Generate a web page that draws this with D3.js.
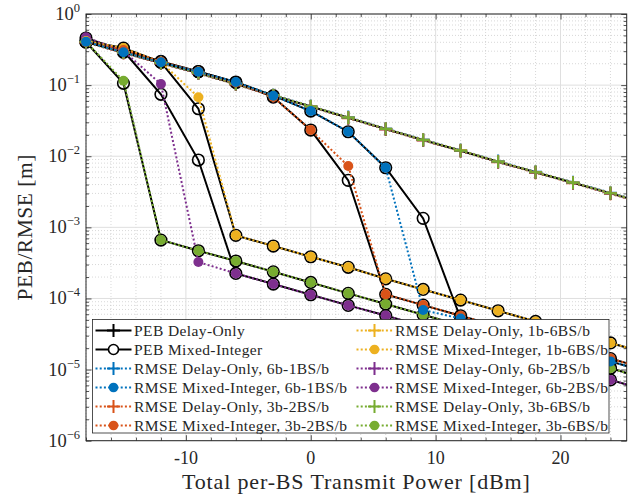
<!DOCTYPE html>
<html><head><meta charset="utf-8">
<script src="https://cdn.jsdelivr.net/npm/d3@7"></script>
<style>
body{margin:0;background:#fff}
</style>
</head><body>
<svg id="c" width="634" height="495"></svg>
<script>
// ---------------- data ----------------
const power = [-18,-15,-12,-9,-6,-3,0,3,6,9,12,15,18,21,24,27];
const xTickValues = [-10,0,10,20];
const yTickExponents = [0,-1,-2,-3,-4,-5,-6];
const configs = ["6b-1BS/b","3b-2BS/b","1b-6BS/b","6b-2BS/b","3b-6BS/b"];
const configColors = ["#0072BD","#D95319","#EDB120","#7E2F8E","#77AC30"];

const pebDelayOnly = [0.404,0.287,0.205,0.148,0.1036,0.0714,0.0500,0.0348,0.0241,0.0169,0.01195,0.00837,0.00594,0.00424,0.00301,0.00213];

const rmseDelayOnly_6b1 = [0.412,0.293,0.209,0.151,0.1057,0.0728,0.0510,0.0355,0.0246,0.0172,0.0122,0.00854,0.00606,0.00432,0.00307,0.00217];
const rmseDelayOnly_3b2 = [0.398,0.283,0.202,0.146,0.1022,0.0704,0.0493,0.0343,0.0238,0.0167,0.0118,0.00826,0.00586,0.00418,0.00297,0.0021];
const rmseDelayOnly_1b6 = [0.408,0.290,0.207,0.1495,0.1046,0.0721,0.0505,0.0351,0.0243,0.0171,0.0121,0.00845,0.0060,0.00428,0.00304,0.00215];
const rmseDelayOnly_6b2 = [0.400,0.285,0.203,0.147,0.1028,0.0709,0.0496,0.0346,0.0239,0.0168,0.01187,0.0083,0.0059,0.00421,0.00299,0.00211];
const rmseDelayOnly_3b6 = [0.404,0.287,0.205,0.148,0.1036,0.0714,0.0500,0.0348,0.0241,0.0169,0.01195,0.00837,0.00594,0.00424,0.00301,0.00213];

const pebMixed_6b1 = [0.4077,0.2893,0.2093,0.1543,0.1105,0.0710,0.0432,0.0221,0.00689,0.001338,5.22e-5,3.69e-5,2.61e-5,1.844e-5,1.304e-5,9.22e-6];
const rmseMixed_6b1 = [0.4077,0.2893,0.2093,0.1543,0.1105,0.0710,0.0432,0.0221,0.00689,6.87e-5,5.22e-5,3.69e-5,2.61e-5,1.844e-5,1.304e-5,9.22e-6];
const pebMixed_3b2 = [0.404,0.312,0.215,0.1553,0.1088,0.0680,0.02336,0.00458,1.142e-4,8.07e-5,5.71e-5,4.04e-5,2.856e-5,2.019e-5,1.428e-5,1.01e-5];
const rmseMixed_3b2 = [0.404,0.312,0.215,0.1553,0.1088,0.0680,0.02336,0.00728,1.142e-4,8.07e-5,5.71e-5,4.04e-5,2.856e-5,2.019e-5,1.428e-5,1.01e-5];
const pebMixed_1b6 = [0.417,0.332,0.211,0.04656,7.72e-4,5.46e-4,3.86e-4,2.74e-4,1.89e-4,1.34e-4,9.49e-5,6.71e-5,4.75e-5,3.36e-5,2.37e-5,1.68e-5];
const rmseMixed_1b6 = [0.417,0.332,0.211,0.0674,7.72e-4,5.46e-4,3.86e-4,2.74e-4,1.89e-4,1.34e-4,9.49e-5,6.71e-5,4.75e-5,3.36e-5,2.37e-5,1.68e-5];
const pebMixed_6b2 = [0.46,0.302,0.0742,0.00884,2.25e-4,1.594e-4,1.127e-4,7.99e-5,5.75e-5,4.05e-5,2.87e-5,2.025e-5,1.432e-5,1.013e-5,7.16e-6,5.07e-6];
const rmseMixed_6b2 = [0.47,0.302,0.1036,3.25e-4,2.25e-4,1.594e-4,1.127e-4,7.99e-5,5.75e-5,4.05e-5,2.87e-5,2.025e-5,1.432e-5,1.013e-5,7.16e-6,5.07e-6];
const pebMixed_3b6 = [0.404,0.1060,6.63e-4,4.69e-4,3.36e-4,2.37e-4,1.68e-4,1.18e-4,8.34e-5,5.90e-5,4.17e-5,2.95e-5,2.09e-5,1.475e-5,1.043e-5,7.38e-6];
const rmseMixed_3b6 = [0.404,0.1153,6.63e-4,4.69e-4,3.36e-4,2.37e-4,1.68e-4,1.18e-4,8.34e-5,5.90e-5,4.17e-5,2.95e-5,2.09e-5,1.475e-5,1.043e-5,7.38e-6];

const rmseDelayOnly = [rmseDelayOnly_6b1,rmseDelayOnly_3b2,rmseDelayOnly_1b6,rmseDelayOnly_6b2,rmseDelayOnly_3b6];
const pebMixed = [pebMixed_6b1,pebMixed_3b2,pebMixed_1b6,pebMixed_6b2,pebMixed_3b6];
const rmseMixed = [rmseMixed_6b1,rmseMixed_3b2,rmseMixed_1b6,rmseMixed_6b2,rmseMixed_3b6];

// ---------------- layout ----------------
const L=86, R=626.7, T=14, B=440.7;
const svg = d3.select("#c");
const x = d3.scaleLinear().domain([-18,25.3]).range([L,R]);
const y = d3.scaleLog().domain([1e-6,1]).range([B,T]);
const axisColor="#262626";
const serif="Liberation Serif, DejaVu Serif, Noto Serif, FreeSerif, Nimbus Roman, Times New Roman, Times, serif";

svg.append("rect").attr("x",L).attr("y",T).attr("width",R-L).attr("height",B-T).attr("fill","#fff");

// grid
const g = svg.append("g");
const xMinor = d3.range(-18,26,2).filter(v=>v%10!==0);
const yMinor = [];
for(let e=-6;e<0;e++) for(let k=2;k<10;k++) yMinor.push(k*Math.pow(10,e));
g.selectAll(".xm").data(xMinor).join("line").attr("x1",d=>x(d)).attr("x2",d=>x(d)).attr("y1",T).attr("y2",B)
 .attr("stroke","#bdbdbd").attr("stroke-width",0.6).attr("stroke-dasharray","1,2");
g.selectAll(".ym").data(yMinor).join("line").attr("y1",d=>y(d)).attr("y2",d=>y(d)).attr("x1",L).attr("x2",R)
 .attr("stroke","#bdbdbd").attr("stroke-width",0.6).attr("stroke-dasharray","1,2");
g.selectAll(".xM").data(xTickValues).join("line").attr("x1",d=>x(d)).attr("x2",d=>x(d)).attr("y1",T).attr("y2",B)
 .attr("stroke","#dfdfdf").attr("stroke-width",1);
g.selectAll(".yM").data(yTickExponents.map(e=>Math.pow(10,e))).join("line").attr("y1",d=>y(d)).attr("y2",d=>y(d)).attr("x1",L).attr("x2",R)
 .attr("stroke","#dfdfdf").attr("stroke-width",1);

// axes via d3 axis (inward ticks)
const yMajor = yTickExponents.map(e=>Math.pow(10,e));
const axB = d3.axisBottom(x).tickValues(xTickValues).tickSize(-5.5).tickFormat("");
const axT = d3.axisTop(x).tickValues(xTickValues).tickSize(-5.5).tickFormat("");
const axBm = d3.axisBottom(x).tickValues(xMinor).tickSize(-3).tickFormat("");
const axTm = d3.axisTop(x).tickValues(xMinor).tickSize(-3).tickFormat("");
const axLf = d3.axisLeft(y).tickValues(yMajor).tickSize(-5.5).tickFormat("");
const axRt = d3.axisRight(y).tickValues(yMajor).tickSize(-5.5).tickFormat("");
const axLm = d3.axisLeft(y).tickValues(yMinor).tickSize(-3).tickFormat("");
const axRm = d3.axisRight(y).tickValues(yMinor).tickSize(-3).tickFormat("");
[[axB,`translate(0,${B})`],[axT,`translate(0,${T})`],[axBm,`translate(0,${B})`],[axTm,`translate(0,${T})`],
 [axLf,`translate(${L},0)`],[axRt,`translate(${R},0)`],[axLm,`translate(${L},0)`],[axRm,`translate(${R},0)`]]
 .forEach(([a,t])=>{
   const s=svg.append("g").attr("transform",t).call(a);
   s.selectAll("path.domain").remove();
   s.selectAll("line").attr("stroke",axisColor).attr("stroke-width",0.8);
 });
svg.append("rect").attr("x",L).attr("y",T).attr("width",R-L).attr("height",B-T).attr("fill","none").attr("stroke",axisColor).attr("stroke-width",1);

// tick labels
function txt(){return svg.append("text").style("font-family",serif).attr("fill",axisColor);}
xTickValues.forEach(v=>{
  txt().attr("x",x(v)).attr("y",B+23).attr("text-anchor","middle").attr("font-size",18).text(v);
});
yTickExponents.forEach(e=>{
  const t = txt().attr("x",80).attr("y",y(Math.pow(10,e))+6).attr("text-anchor","end").attr("font-size",18.5);
  t.append("tspan").text("10");
  t.append("tspan").attr("dy",-8).attr("font-size",12.5).text(e===0?"0":"\u2212"+(-e));
});
txt().attr("x",(L+R)/2).attr("y",489).attr("text-anchor","middle").attr("font-size",22)
 .attr("letter-spacing",0.85).text("Total per-BS Transmit Power [dBm]");
txt().attr("transform",`translate(32,${(T+B)/2}) rotate(-90)`).attr("text-anchor","middle").attr("font-size",21.5)
 .attr("letter-spacing",0.5).text("PEB/RMSE [m]");

// ---------------- data marks ----------------
svg.append("clipPath").attr("id","clip").append("rect").attr("x",L).attr("y",T).attr("width",R-L).attr("height",B-T);
const plot = svg.append("g");
const lineGen = d3.line().x(d=>x(d.p)).y(d=>y(d.v));
const inside = d=>d.p<=x.domain()[1];
function pts(arr){return power.map((p,i)=>({p,v:arr[i]}));}
const plusPath="M-6.5,0H6.5M0,-6.5V6.5";

function drawLine(arr,color,dotted){
  plot.append("path").datum(pts(arr)).attr("clip-path","url(#clip)").attr("d",lineGen)
   .attr("fill","none").attr("stroke",color).attr("stroke-width",2)
   .attr("stroke-dasharray",dotted?"2,2.2":null);
}
function drawPlus(arr,color){
  plot.append("g").selectAll("path").data(pts(arr).filter(inside)).join("path")
   .attr("transform",d=>`translate(${x(d.p)},${y(d.v)})`).attr("d",plusPath)
   .attr("stroke",color).attr("stroke-width",2).attr("fill","none");
}
function drawRing(arr){
  plot.append("g").selectAll("circle").data(pts(arr).filter(inside)).join("circle")
   .attr("cx",d=>x(d.p)).attr("cy",d=>y(d.v)).attr("r",5.8)
   .attr("fill","none").attr("stroke","#000").attr("stroke-width",1.6);
}
function drawDot(arr,color){
  plot.append("g").selectAll("circle").data(pts(arr).filter(inside)).join("circle")
   .attr("cx",d=>x(d.p)).attr("cy",d=>y(d.v)).attr("r",5)
   .attr("fill",color);
}

drawLine(pebDelayOnly,"#000",false);
drawPlus(pebDelayOnly,"#000");
pebMixed.forEach(a=>drawLine(a,"#000",false));
pebMixed.forEach(a=>drawRing(a));
rmseDelayOnly.forEach((a,i)=>{drawLine(a,configColors[i],true);drawPlus(a,configColors[i]);});
for(let i=rmseMixed.length-1;i>=0;i--){drawLine(rmseMixed[i],configColors[i],true);}
for(let i=rmseMixed.length-1;i>=0;i--){drawDot(rmseMixed[i],configColors[i]);}

// ---------------- legend ----------------
const legendItems=[
  {label:"PEB Delay-Only",color:"#000",dotted:false,marker:"plus"},
  {label:"PEB Mixed-Integer",color:"#000",dotted:false,marker:"ring"}
];
configs.forEach((c,i)=>{
  legendItems.push({label:"RMSE Delay-Only, "+c,color:configColors[i],dotted:true,marker:"plus"});
  legendItems.push({label:"RMSE Mixed-Integer, "+c,color:configColors[i],dotted:true,marker:"dot"});
});
const lg = svg.append("g");
lg.append("rect").attr("x",92.5).attr("y",319.5).attr("width",516.5).attr("height",113.5)
  .attr("fill","#fff").attr("stroke",axisColor).attr("stroke-width",0.8);
legendItems.forEach((it,k)=>{
  const col=Math.floor(k/6), row=k%6;
  const x0 = col===0?95.5:356.5;
  const yy = 330.5+row*19;
  lg.append("line").attr("x1",x0).attr("x2",x0+36).attr("y1",yy).attr("y2",yy)
    .attr("stroke",it.color).attr("stroke-width",2).attr("stroke-dasharray",it.dotted?"2,2.2":null);
  const cx=x0+18;
  if(it.marker==="plus") lg.append("path").attr("d",plusPath).attr("transform",`translate(${cx},${yy})`).attr("stroke",it.color).attr("stroke-width",2);
  else if(it.marker==="ring") lg.append("circle").attr("cx",cx).attr("cy",yy).attr("r",5).attr("fill","#fff").attr("stroke","#000").attr("stroke-width",1.6);
  else lg.append("circle").attr("cx",cx).attr("cy",yy).attr("r",4.8).attr("fill",it.color);
  lg.append("text").style("font-family",serif).attr("fill",axisColor).attr("x",x0+38.5).attr("y",yy+5)
    .attr("font-size",15.5).attr("letter-spacing",0.4).text(it.label);
});
</script>
</body></html>
